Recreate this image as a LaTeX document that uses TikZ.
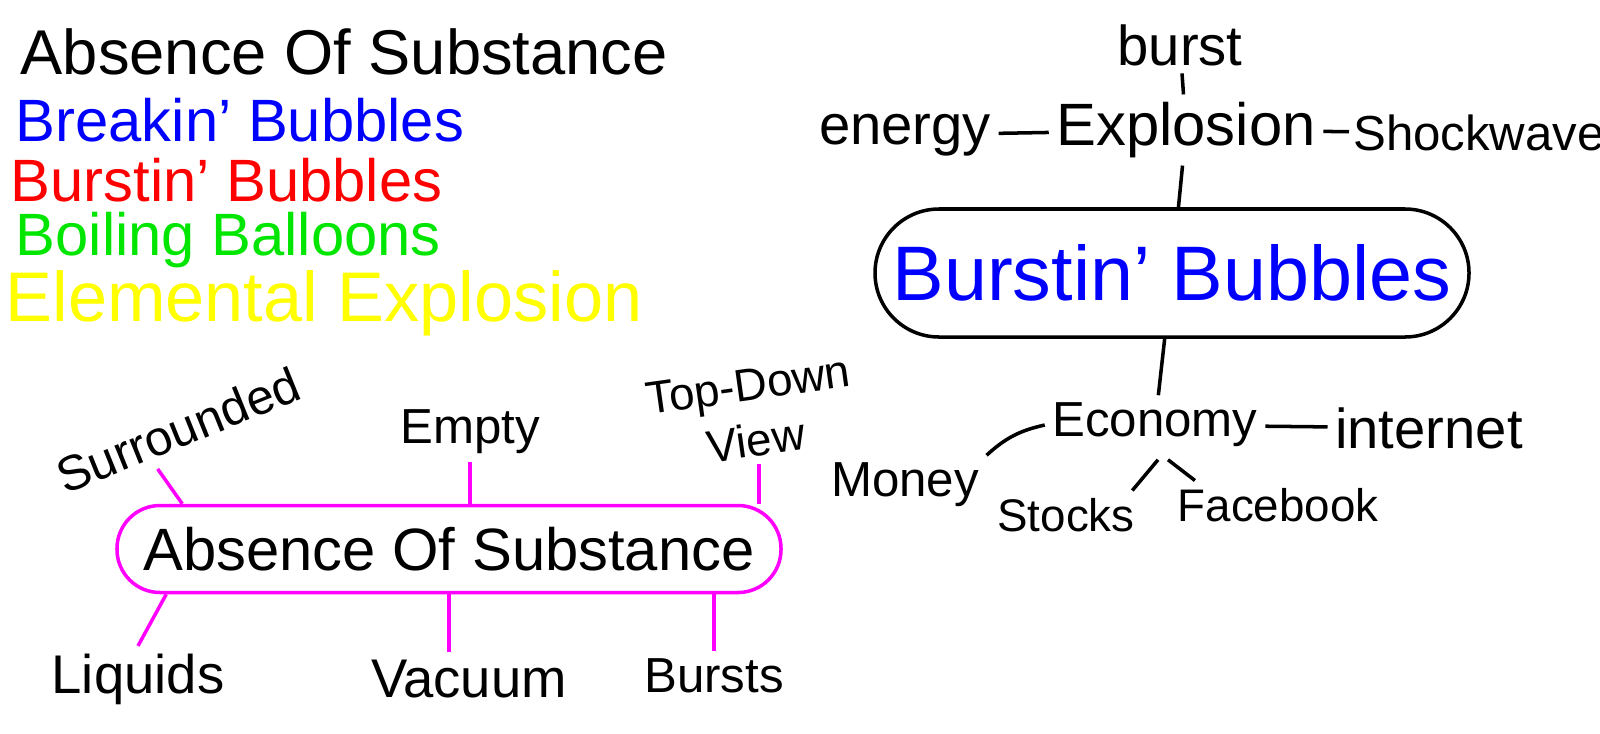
\documentclass[tikz,border=0pt]{standalone}
\usepackage{fontspec}
\setmainfont{Liberation Sans}
\usepackage{tikz}
\usetikzlibrary{positioning,calc}
\definecolor{inkblue}{HTML}{0000FF}
\definecolor{inkred}{HTML}{FF0000}
\definecolor{inkgreen}{HTML}{00E600}
\definecolor{inkyellow}{HTML}{FFFF00}
\definecolor{inkpink}{HTML}{FF00FF}
\newcommand{\fsz}[1]{\fontsize{#1}{#1}\selectfont}

\begin{document}
\begin{tikzpicture}[
  word/.style={inner sep=2pt, font=\fsz{16}},
  listword/.style={anchor=west, inner sep=0pt, font=\fsz{17}},
  hubbox/.style={draw, rounded corners=0.64cm, line width=1pt, inner sep=0pt, minimum width=5.94cm, minimum height=1.28cm},
  pinkbox/.style={draw=inkpink, rounded corners=0.43cm, line width=1pt, inner sep=0pt, minimum width=6.64cm, minimum height=0.87cm},
  link/.style={line width=1pt, black},
  plink/.style={line width=1pt, inkpink}
]
  \fill[white] (0,0) rectangle (16,-7.33);
  \useasboundingbox (0,0) rectangle (16,-7.33);

  % title list
  \node[listword, font=\fsz{18}] (ttl) at (0.2,-0.52) {Absence Of Substance};
  \node[listword, inkblue] (brk) at (0.15,-1.20) {Breakin' Bubbles};
  \node[listword, inkred] (bst) at (0.1,-1.80) {Burstin' Bubbles};
  \node[listword, inkgreen] (boil) at (0.15,-2.40) {Boiling Balloons};
  \node[listword, inkyellow, font=\fsz{20}] (elem) at (0.05,-3.03) {Elemental Explosion};

  % bubbles map
  \node[hubbox] (bb) at (11.72,-2.73) {\fsz{22}\color{inkblue}Burstin' Bubbles};
  \node[word, font=\fsz{17}] (expl) at (11.86,-1.30) {Explosion};
  \node[word] (burst) at (11.80,-0.45) {burst};
  \node[word] (energy) at (9.05,-1.35) {energy};
  \node[word, font=\fsz{14}, inner sep=1pt] (shock) at (14.79,-1.33) {Shockwave};
  \node[word, font=\fsz{14}] (econ) at (11.55,-4.25) {Economy};
  \node[word] (inet) at (14.29,-4.28) {internet};
  \node[word, font=\fsz{14}] (money) at (9.05,-4.85) {Money};
  \node[word, font=\fsz{13}] (stocks) at (10.66,-5.15) {Stocks};
  \node[word, font=\fsz{13}] (fb) at (12.78,-5.05) {Facebook};

  \draw[link] (burst) -- (expl);
  \draw[link] (energy) -- (expl);
  \draw[link] (expl) -- (shock);
  \draw[link] (expl) -- (bb);
  \draw[link] (bb) -- (econ);
  \draw[link] (econ) -- (inet);
  \draw[link] (econ.west) to[bend right=15] (money.north east);
  \draw[link] ($(econ.south)+(0.03,-0.05)$) -- ($(stocks.north east)+(-0.1,0)$);
  \draw[link] ($(econ.south)+(0.13,-0.05)$) -- ($(fb.north west)+(0.25,0)$);

  % absence map
  \node[pinkbox] (aos) at (4.49,-5.49) {\fsz{17}Absence Of Substance};
  \node[word, font=\fsz{14}, rotate=22] (surr) at (1.78,-4.30) {Surrounded};
  \node[word, font=\fontsize{13}{16}\selectfont, rotate=8, align=center] (tdv) at (7.52,-4.13) {Top-Down\\View};
  \node[word, font=\fsz{14}] (empty) at (4.70,-4.32) {Empty};
  \node[word, font=\fsz{15.5}] (liq) at (1.38,-6.79) {Liquids};
  \node[word, font=\fsz{15.5}] (vac) at (4.69,-6.79) {Vacuum};
  \node[word, font=\fsz{14}] (bursts) at (7.14,-6.76) {Bursts};

  \draw[plink] ($(surr.south)+(-0.3,-0.15)$) -- ($(aos.north west)+(0.67,0)$);
  \draw[plink] (empty.south) -- (empty.south |- aos.north);
  \draw[plink] (tdv.south) -- (tdv.south |- aos.north);
  \draw[plink] ($(aos.south west)+(0.51,0)$) -- (liq.north);
  \draw[plink] (aos.south) -- (aos.south |- vac.north);
  \draw[plink] (bursts.north) -- (bursts.north |- aos.south);
\end{tikzpicture}
\end{document}
